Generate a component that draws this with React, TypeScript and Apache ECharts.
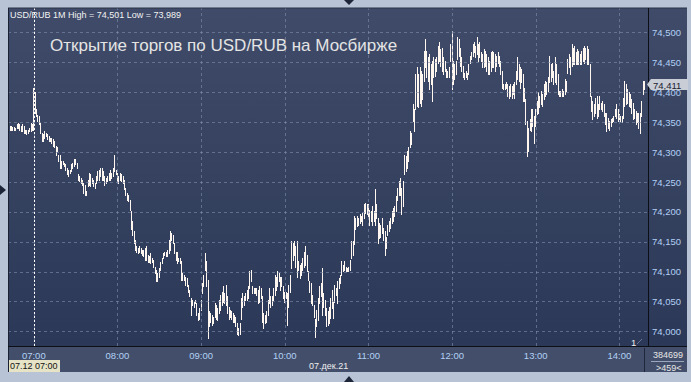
import React, { useEffect, useRef } from 'react';
import * as echarts from 'echarts';

// ---- data (1-minute bars, USD/RUB, 07.12.2021) ----
const startTime = '06:42';
const slotCount = 459;
const hourLabels = ['07:00', '08:00', '09:00', '10:00', '11:00', '12:00', '13:00', '14:00'];
const priceTicks = [74.0, 74.05, 74.1, 74.15, 74.2, 74.25, 74.3, 74.35, 74.4, 74.45, 74.5];
const sessionStart = '07:00';
const lastClose = 74.411;
const highOfDay = 74.501;
const lowOfDay = 73.989;

const lows = [
  74.343,74.336,74.337,74.336,74.337,74.336,74.340,74.340,74.337,74.335,
  74.335,74.332,74.331,74.330,74.332,74.335,74.335,74.337,74.337,74.365,
  74.360,74.351,74.346,74.332,74.318,74.318,74.323,74.326,74.321,74.318,
  74.318,74.315,74.309,74.307,74.295,74.301,74.284,74.273,74.273,74.279,
  74.276,74.270,74.262,74.259,74.265,74.267,74.273,74.276,74.279,74.273,
  74.253,74.251,74.248,74.245,74.231,74.228,74.228,74.242,74.245,74.242,
  74.248,74.242,74.239,74.248,74.253,74.253,74.259,74.253,74.253,74.245,
  74.248,74.251,74.253,74.253,74.256,74.259,74.267,74.262,74.251,74.248,
  74.253,74.251,74.248,74.237,74.228,74.220,74.217,74.203,74.170,74.161,
  74.147,74.136,74.133,74.130,74.133,74.130,74.128,74.125,74.119,74.119,
  74.116,74.116,74.114,74.116,74.108,74.097,74.083,74.083,74.091,74.103,
  74.114,74.122,74.128,74.125,74.125,74.130,74.136,74.153,74.147,74.130,
  74.119,74.114,74.117,74.114,74.086,74.086,74.086,74.077,74.075,74.066,
  74.058,74.027,74.044,74.041,74.047,74.027,74.019,74.021,74.035,74.063,
  74.075,74.103,74.075,73.989,74.008,74.016,74.010,74.013,74.024,74.021,
  74.019,74.030,74.035,74.044,74.049,74.047,74.044,74.030,74.021,74.024,
  74.021,74.016,74.016,74.008,73.996,73.994,73.996,74.021,74.041,74.044,
  74.052,74.052,74.055,74.072,74.083,74.063,74.063,74.063,74.061,74.047,
  74.049,74.055,74.016,74.005,74.013,74.016,74.027,74.047,74.041,74.044,
  74.052,74.061,74.069,74.075,74.083,74.069,74.075,74.055,74.049,74.055,
  74.010,74.041,74.066,74.105,74.119,74.128,74.108,74.091,74.103,74.089,
  74.094,74.103,74.108,74.111,74.100,74.086,74.066,74.047,74.044,74.024,
  73.991,74.008,74.019,74.047,74.058,74.027,74.041,74.027,74.008,74.010,
  74.013,74.022,74.038,74.022,74.049,74.061,74.047,74.072,74.080,74.094,
  74.100,74.103,74.100,74.100,74.100,74.103,74.122,74.128,74.145,74.170,
  74.175,74.178,74.181,74.184,74.178,74.189,74.198,74.195,74.192,74.178,
  74.184,74.178,74.184,74.178,74.189,74.147,74.156,74.158,74.164,74.153,
  74.128,74.139,74.161,74.167,74.172,74.181,74.184,74.192,74.200,74.220,
  74.228,74.228,74.195,74.209,74.262,74.267,74.273,74.284,74.307,74.312,
  74.351,74.335,74.371,74.377,74.374,74.382,74.377,74.388,74.418,74.441,
  74.424,74.418,74.404,74.413,74.385,74.424,74.427,74.435,74.449,74.452,
  74.444,74.435,74.430,74.435,74.424,74.424,74.424,74.452,74.404,74.413,
  74.421,74.430,74.455,74.460,74.444,74.435,74.424,74.421,74.424,74.421,
  74.430,74.449,74.455,74.460,74.466,74.458,74.463,74.452,74.458,74.452,
  74.441,74.441,74.444,74.435,74.430,74.430,74.435,74.441,74.441,74.435,
  74.444,74.449,74.444,74.430,74.407,74.404,74.404,74.407,74.393,74.390,
  74.393,74.390,74.396,74.390,74.413,74.421,74.418,74.407,74.416,74.385,
  74.385,74.346,74.293,74.301,74.337,74.335,74.343,74.315,74.343,74.363,
  74.365,74.374,74.379,74.377,74.388,74.393,74.396,74.402,74.416,74.418,
  74.424,74.413,74.416,74.413,74.396,74.393,74.393,74.393,74.393,74.396,
  74.402,74.432,74.441,74.430,74.444,74.446,74.446,74.446,74.446,74.446,
  74.446,74.446,74.452,74.449,74.455,74.446,74.446,74.393,74.368,74.354,
  74.360,74.365,74.357,74.360,74.371,74.371,74.368,74.360,74.346,74.335,
  74.340,74.337,74.343,74.349,74.351,74.360,74.357,74.351,74.354,74.351,
  74.349,74.357,74.377,74.379,74.382,74.377,74.374,74.365,74.354,74.357,
  74.346,74.349,74.340,74.332,74.360,74.396,74.404,
];

const highs = [
  74.352,74.343,74.343,74.342,74.341,74.340,74.346,74.348,74.346,74.343,
  74.346,74.343,74.337,74.336,74.337,74.340,74.348,74.346,74.406,74.399,
  74.371,74.362,74.360,74.348,74.332,74.329,74.334,74.332,74.329,74.326,
  74.323,74.323,74.321,74.318,74.309,74.307,74.295,74.295,74.284,74.284,
  74.281,74.279,74.273,74.270,74.270,74.279,74.281,74.287,74.287,74.281,
  74.262,74.259,74.256,74.253,74.248,74.245,74.234,74.253,74.265,74.262,
  74.256,74.253,74.248,74.259,74.267,74.270,74.273,74.273,74.267,74.259,
  74.256,74.259,74.265,74.270,74.265,74.273,74.295,74.270,74.265,74.259,
  74.265,74.262,74.259,74.253,74.239,74.231,74.228,74.220,74.200,74.184,
  74.167,74.153,74.142,74.139,74.142,74.139,74.136,74.136,74.139,74.142,
  74.128,74.125,74.130,74.122,74.119,74.108,74.103,74.097,74.105,74.116,
  74.122,74.130,74.133,74.133,74.136,74.153,74.167,74.164,74.161,74.147,
  74.133,74.133,74.122,74.122,74.117,74.097,74.094,74.091,74.089,74.077,
  74.069,74.055,74.052,74.049,74.052,74.047,74.030,74.038,74.052,74.080,
  74.094,74.130,74.117,74.086,74.033,74.030,74.027,74.024,74.047,74.044,
  74.038,74.052,74.061,74.066,74.075,74.063,74.077,74.058,74.041,74.035,
  74.033,74.030,74.027,74.024,74.013,74.005,74.013,74.055,74.063,74.058,
  74.063,74.069,74.075,74.100,74.103,74.075,74.072,74.072,74.072,74.069,
  74.075,74.072,74.058,74.030,74.027,74.033,74.052,74.072,74.058,74.058,
  74.072,74.094,74.091,74.100,74.097,74.091,74.091,74.075,74.066,74.066,
  74.063,74.077,74.094,74.150,74.147,74.150,74.142,74.150,74.117,74.111,
  74.114,74.122,74.133,74.142,74.128,74.100,74.083,74.080,74.061,74.044,
  74.021,74.035,74.055,74.075,74.080,74.105,74.063,74.052,74.038,74.033,
  74.041,74.055,74.069,74.049,74.077,74.072,74.083,74.089,74.094,74.117,
  74.111,74.117,74.108,74.105,74.108,74.119,74.150,74.150,74.192,74.189,
  74.192,74.189,74.195,74.192,74.198,74.212,74.214,74.212,74.212,74.203,
  74.200,74.209,74.200,74.237,74.212,74.189,74.181,74.178,74.189,74.172,
  74.167,74.158,74.178,74.184,74.189,74.200,74.206,74.209,74.226,74.240,
  74.251,74.256,74.240,74.251,74.295,74.293,74.301,74.307,74.335,74.332,
  74.379,74.371,74.430,74.441,74.430,74.441,74.435,74.430,74.469,74.488,
  74.469,74.458,74.463,74.446,74.452,74.458,74.455,74.458,74.477,74.483,
  74.472,74.474,74.458,74.452,74.438,74.435,74.441,74.480,74.501,74.452,
  74.446,74.452,74.491,74.488,74.474,74.458,74.444,74.432,74.435,74.432,
  74.446,74.460,74.466,74.480,74.483,74.477,74.491,74.480,74.483,74.466,
  74.463,74.472,74.469,74.463,74.458,74.452,74.466,74.469,74.466,74.463,
  74.460,74.466,74.460,74.452,74.435,74.413,74.413,74.416,74.413,74.410,
  74.413,74.410,74.413,74.416,74.435,74.458,74.446,74.441,74.438,74.430,
  74.407,74.388,74.351,74.340,74.354,74.371,74.371,74.360,74.371,74.385,
  74.399,74.393,74.402,74.396,74.413,74.418,74.416,74.424,74.460,74.446,
  74.449,74.435,74.458,74.446,74.430,74.402,74.402,74.404,74.402,74.421,
  74.418,74.455,74.463,74.458,74.480,74.474,74.477,74.466,74.472,74.469,
  74.463,74.469,74.474,74.477,74.474,74.477,74.472,74.446,74.393,74.385,
  74.379,74.390,74.393,74.379,74.393,74.382,74.385,74.379,74.365,74.365,
  74.357,74.351,74.354,74.357,74.360,74.371,74.379,74.371,74.363,74.360,
  74.360,74.390,74.418,74.413,74.404,74.399,74.396,74.388,74.382,74.371,
  74.368,74.365,74.365,74.365,74.385,74.418,74.418,
];

// ---- styling ----
const FONT = "'Liberation Sans', Arial, sans-serif";
const candleColor = '#fff6f0';
const labelBlue = '#b2cff5';
const gridColor = 'rgba(128,143,172,0.6)';

const fmt = (v: number) => v.toFixed(3).replace('.', ',');

function buildTimes(): string[] {
  const [h0, m0] = startTime.split(':').map(Number);
  const out: string[] = [];
  for (let i = 0; i < slotCount; i++) {
    const t = h0 * 60 + m0 + i;
    const h = Math.floor(t / 60);
    const m = t % 60;
    out.push(String(h).padStart(2, '0') + ':' + String(m).padStart(2, '0'));
  }
  return out;
}

function buildOption() {
  const times = buildTimes();
  const bars = lows.map((l, i) => [i, l, highs[i]]);

  const markData: any[] = [];
  priceTicks.forEach((v) => {
    markData.push({
      yAxis: v,
      lineStyle: { color: gridColor, type: [3, 3], width: 1 },
      label: {
        show: true,
        position: 'end',
        distance: 4,
        formatter: fmt(v),
        color: labelBlue,
        fontSize: 9.5,
        fontFamily: FONT,
      },
    });
  });
  hourLabels.forEach((h) => {
    markData.push({
      xAxis: times.indexOf(h),
      lineStyle: { color: gridColor, type: [3, 3], width: 1 },
      label: { show: false },
    });
  });
  markData.push({
    xAxis: times.indexOf(sessionStart),
    lineStyle: { color: '#ffffff', type: [2, 2], width: 1 },
    label: { show: false },
  });

  const tri = (pts: number[][]) => ({
    type: 'polygon',
    z: 50,
    shape: { points: pts },
    style: { fill: '#1d2538' },
    silent: true,
  });
  const txt = (x: number, y: number, text: string, fill: string, size: number, weight = 'normal') => ({
    type: 'text',
    z: 60,
    x,
    y,
    silent: true,
    style: {
      text,
      fill,
      fontSize: size,
      fontFamily: FONT,
      fontWeight: weight,
      align: 'left',
      verticalAlign: 'middle',
    },
  });
  const ln = (x1: number, y1: number, x2: number, y2: number, stroke: string) => ({
    type: 'line',
    z: 50,
    silent: true,
    shape: { x1, y1, x2, y2 },
    style: { stroke, lineWidth: 1 },
  });

  return {
    animation: false,
    backgroundColor: '#b8c4d5',
    grid: { left: 8, right: 43, top: 8, bottom: 36 },
    xAxis: {
      type: 'category',
      data: times,
      boundaryGap: true,
      axisLine: { show: false },
      axisTick: { show: false },
      splitLine: { show: false },
      axisLabel: {
        interval: (_i: number, v: string) => hourLabels.includes(v),
        color: labelBlue,
        fontSize: 9.5,
        fontFamily: FONT,
        margin: 4,
      },
    },
    yAxis: {
      type: 'value',
      position: 'right',
      min: 73.976,
      max: 74.541,
      axisLine: { show: false },
      axisTick: { show: false },
      axisLabel: { show: false },
      splitLine: { show: false },
    },
    series: [
      {
        type: 'custom',
        data: bars,
        encode: { x: 0, y: [1, 2] },
        renderItem: (_p: any, api: any) => {
          const i = api.value(0);
          const top = api.coord([i, api.value(2)]);
          const bot = api.coord([i, api.value(1)]);
          const x = Math.round(top[0] - 0.5);
          const y1 = Math.floor(top[1]);
          const y2 = Math.ceil(bot[1]);
          return {
            type: 'rect',
            shape: { x, y: y1, width: 1, height: Math.max(1, y2 - y1) },
            style: { fill: candleColor },
          };
        },
        markLine: {
          silent: true,
          symbol: ['none', 'none'],
          animation: false,
          data: markData,
        },
      },
    ],
    graphic: [
      {
        type: 'rect',
        z: -10,
        silent: true,
        shape: { x: 8, y: 8, width: 679, height: 339 },
        style: {
          fill: new echarts.graphic.LinearGradient(0, 0, 0, 1, [
            { offset: 0, color: '#3f4b68' },
            { offset: 1, color: '#2b3857' },
          ]),
        },
      },
      {
        type: 'rect',
        z: -10,
        silent: true,
        shape: { x: 8, y: 347, width: 679, height: 25 },
        style: { fill: '#434f6a' },
      },
      ln(8, 8, 687, 8, '#2a3246'),
      ln(8.5, 8, 8.5, 372, '#1a2132'),
      ln(8, 346.5, 687, 346.5, '#0c0f16'),
      ln(648.5, 8, 648.5, 346, '#0c0f16'),
      ln(644.5, 348, 644.5, 372, '#20273a'),
      ln(651, 361.5, 684, 361.5, '#9aa6bb'),
      ln(637, 344, 642, 339, '#6b7792'),
      tri([[344, 0], [354, 0], [349, 5]]),
      tri([[344, 382], [354, 382], [349, 376]]),
      tri([[0, 185], [0, 195], [6, 190]]),
      txt(10, 15, `USD/RUB 1M High = ${fmt(highOfDay)} Low = ${fmt(lowOfDay)}`, '#f2f2f2', 9),
      txt(50, 45, 'Открытие торгов по USD/RUB на Мосбирже', '#e4e4e4', 17),
      txt(631, 342, '1', '#f0f0f0', 9.5),
      {
        type: 'rect',
        z: 55,
        silent: true,
        shape: { x: 9, y: 360, width: 51, height: 12 },
        style: { fill: '#e6e3c6' },
      },
      txt(10, 366, '07.12 07:00', '#141414', 9),
      txt(309, 366, '07.дек.21', '#eeeeee', 9),
      txt(653, 355, '384699', '#e6e6e6', 9),
      txt(656, 368, '>459<', '#e6e6e6', 9),
      {
        type: 'polygon',
        z: 70,
        silent: true,
        shape: { points: [[647, 84.5], [651, 79], [688, 79], [688, 90], [651, 90]] },
        style: { fill: '#c9cdd5' },
      },
      { ...txt(653, 85, fmt(lastClose), '#1b2232', 9.5), z: 75 },
    ],
  };
}

export default function App() {
  const ref = useRef<HTMLDivElement>(null);
  useEffect(() => {
    document.body.style.margin = '0';
    const chart = echarts.init(ref.current as HTMLDivElement, null, { renderer: 'svg' });
    chart.setOption(buildOption() as any);
    return () => chart.dispose();
  }, []);
  return <div ref={ref} style={{ width: 691, height: 382 }} />;
}
